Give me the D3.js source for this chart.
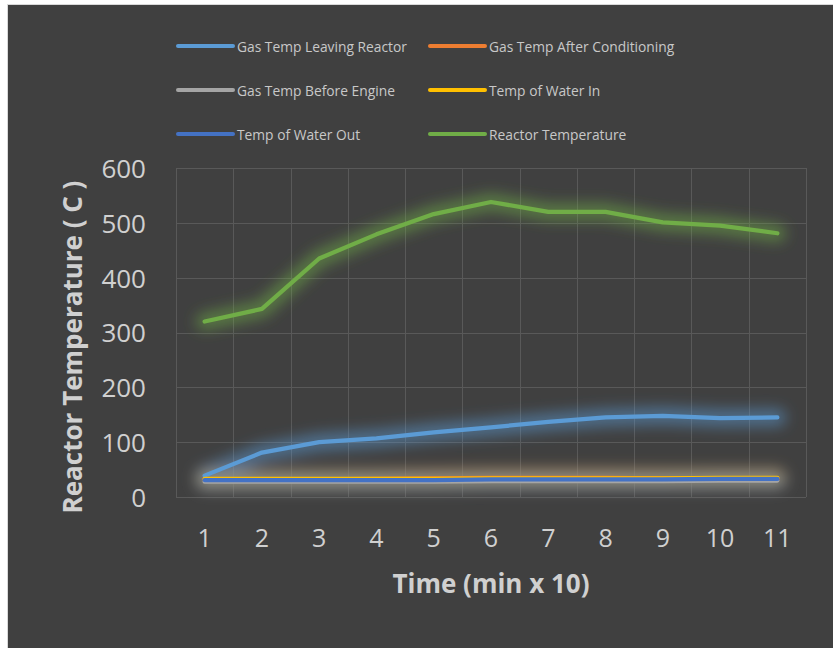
<!DOCTYPE html>
<html>
<head>
<meta charset="utf-8">
<script src="https://cdn.jsdelivr.net/npm/d3@7"></script>
<style>
  html, body { margin: 0; padding: 0; background: #ffffff; }
  svg { display: block; }
</style>
</head>
<body>
<svg id="chart" width="833" height="648"></svg>
<script>
// ---- data ----
const categories = ["1","2","3","4","5","6","7","8","9","10","11"];
const yTicks = [0, 100, 200, 300, 400, 500, 600];
const seriesNames = [
  "Gas Temp Leaving Reactor",
  "Gas Temp After Conditioning",
  "Gas Temp Before Engine",
  "Temp of Water In",
  "Temp of Water Out",
  "Reactor Temperature"
];
const seriesColors = ["#5b9bd5", "#ed7d31", "#a5a5a5", "#ffc000", "#4472c4", "#70ad47"];
const gasLeavingReactor    = [39, 81, 100, 107, 118, 127, 137, 145, 148, 144, 145];
const gasAfterConditioning = [32, 32, 32, 33, 34, 35, 35, 35, 34, 34, 34];
const gasBeforeEngine      = [28, 28, 28, 28, 28, 29, 29, 29, 29, 30, 30];
const waterIn              = [33, 33, 33, 33, 33, 34, 34, 34, 34, 35, 35];
const waterOut             = [31, 31, 31, 31, 31, 32, 32, 32, 32, 33, 33];
const reactorTemp          = [320, 343, 435, 479, 516, 538, 520, 520, 501, 495, 481];
const seriesValues = [gasLeavingReactor, gasAfterConditioning, gasBeforeEngine, waterIn, waterOut, reactorTemp];
const xTitle = "Time (min x 10)";
const yTitle = "Reactor Temperature ( C )";

// ---- layout ----
const svg = d3.select("#chart");
const W = 833, H = 648;
const plot = { left: 176, right: 806, top: 168, bottom: 497 };
const textColor = "#d0d0d0";
const font = "'Open Sans', 'Noto Sans', sans-serif";

// background
svg.append("rect").attr("x", 7.5).attr("y", 4.5).attr("width", W).attr("height", H)
  .attr("fill", "#404040").attr("stroke", "#d9d9d9").attr("stroke-width", 1);

const defs = svg.append("defs");
const glow = defs.append("filter").attr("id", "glow").attr("filterUnits", "userSpaceOnUse")
  .attr("x", 0).attr("y", 0).attr("width", W).attr("height", H);
glow.append("feGaussianBlur").attr("stdDeviation", 7);

const x = d3.scaleBand().domain(categories).range([plot.left, plot.right]).paddingInner(0).paddingOuter(0);
const xc = d => x(d) + x.bandwidth() / 2;
const y = d3.scaleLinear().domain([0, 600]).range([plot.bottom, plot.top]);

// gridlines
const grid = svg.append("g").attr("stroke", "#595959").attr("stroke-width", 1);
grid.selectAll("line.h").data(yTicks).join("line")
  .attr("x1", plot.left).attr("x2", plot.right)
  .attr("y1", d => Math.round(y(d)) + 0.5).attr("y2", d => Math.round(y(d)) + 0.5);
const vEdges = categories.map(c => x(c)).concat([x(categories[categories.length - 1]) + x.bandwidth()]);
grid.selectAll("line.v").data(vEdges).join("line")
  .attr("y1", y(600)).attr("y2", y(0))
  .attr("x1", d => Math.round(d) + 0.5).attr("x2", d => Math.round(d) + 0.5);

// y axis labels
const yAxis = svg.append("g").attr("transform", `translate(${plot.left},0)`)
  .call(d3.axisLeft(y).tickValues(yTicks).tickSize(0).tickPadding(30));
yAxis.select(".domain").remove();
yAxis.selectAll("text").attr("fill", textColor).attr("font-family", font).attr("font-size", 26)
  .attr("dy", "0.36em");

// x axis labels
const xAxis = svg.append("g").attr("transform", `translate(0,${plot.bottom})`)
  .call(d3.axisBottom(x).tickSize(0));
xAxis.select(".domain").remove();
xAxis.selectAll("text").attr("fill", textColor).attr("font-family", font).attr("font-size", 25)
  .attr("y", 41).attr("dy", "0.36em");

// titles
svg.append("text").attr("x", (plot.left + plot.right) / 2).attr("y", 583)
  .attr("text-anchor", "middle").attr("dominant-baseline", "central")
  .attr("fill", textColor).attr("font-family", font).attr("font-weight", "bold").attr("font-size", 26)
  .text(xTitle);
svg.append("text").attr("transform", "translate(72,347) rotate(-90)")
  .attr("text-anchor", "middle").attr("dominant-baseline", "central")
  .attr("fill", textColor).attr("font-family", font).attr("font-weight", "bold").attr("font-size", 26)
  .text(yTitle);

// lines
const line = d3.line().x((d, i) => xc(categories[i])).y(d => y(d)).curve(d3.curveLinear);
const glowLayer = svg.append("g").attr("filter", "url(#glow)");
seriesValues.forEach((vals, si) => {
  glowLayer.append("path").datum(vals).attr("d", line)
    .attr("fill", "none").attr("stroke", seriesColors[si]).attr("stroke-opacity", 0.5)
    .attr("stroke-width", 18).attr("stroke-linecap", "round").attr("stroke-linejoin", "round");
});
const lineLayer = svg.append("g");
seriesValues.forEach((vals, si) => {
  lineLayer.append("path").datum(vals).attr("d", line)
    .attr("fill", "none").attr("stroke", seriesColors[si])
    .attr("stroke-width", 4.25).attr("stroke-linecap", "round").attr("stroke-linejoin", "round");
});

// legend
const legCols = [178, 430];
const legRows = [46, 90, 134];
const legend = svg.append("g");
seriesNames.forEach((name, i) => {
  const lx = legCols[i % 2], ly = legRows[Math.floor(i / 2)];
  legend.append("line").attr("x1", lx).attr("x2", lx + 55).attr("y1", ly).attr("y2", ly)
    .attr("stroke", seriesColors[i]).attr("stroke-width", 4).attr("stroke-linecap", "round");
  legend.append("text").attr("x", lx + 59).attr("y", ly).attr("dominant-baseline", "central")
    .attr("fill", "#c8c8c8").attr("font-family", font).attr("font-size", 13.8).text(name);
});
</script>
</body>
</html>
